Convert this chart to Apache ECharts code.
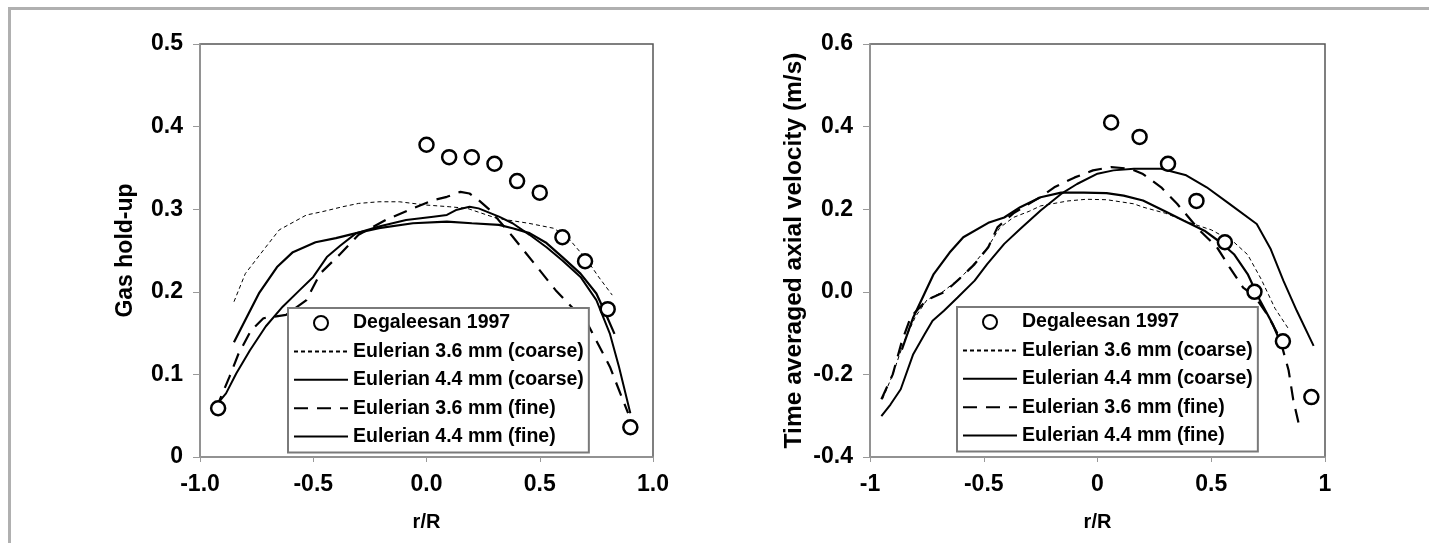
<!DOCTYPE html>
<html>
<head>
<meta charset="utf-8">
<script src="https://cdn.jsdelivr.net/npm/echarts@6/dist/echarts.min.js"></script>
<style>
  html, body { margin: 0; padding: 0; background: #fff; }
  #chart { width: 1429px; height: 543px; }
</style>
</head>
<body>
<div id="chart"></div>
<script>
// ===== data: left plot (gas hold-up) =====
const holdDeg = [[-0.92, 0.059], [0.0, 0.378], [0.1, 0.363], [0.2, 0.363], [0.3, 0.355], [0.4, 0.334],
  [0.5, 0.320], [0.6, 0.266], [0.7, 0.237], [0.8, 0.179], [0.9, 0.036]];
const holdC36 = [[-0.85, 0.188], [-0.8, 0.222], [-0.71, 0.254], [-0.65, 0.275], [-0.53, 0.293], [-0.46, 0.297],
  [-0.37, 0.303], [-0.3, 0.307], [-0.21, 0.309], [-0.12, 0.309], [0.0, 0.305], [0.1, 0.303], [0.18, 0.301],
  [0.31, 0.289], [0.45, 0.283], [0.56, 0.277], [0.62, 0.267], [0.71, 0.238], [0.76, 0.218], [0.82, 0.196]];
const holdC44 = [[-0.85, 0.139], [-0.8, 0.166], [-0.74, 0.198], [-0.66, 0.230], [-0.59, 0.248], [-0.49, 0.260],
  [-0.4, 0.265], [-0.31, 0.271], [-0.21, 0.277], [-0.06, 0.283], [0.09, 0.285], [0.2, 0.283], [0.32, 0.281],
  [0.38, 0.277], [0.455, 0.271], [0.53, 0.259], [0.6, 0.242], [0.68, 0.222], [0.75, 0.198], [0.79, 0.174],
  [0.83, 0.149]];
const holdF36 = [[-0.93, 0.058], [-0.87, 0.097], [-0.83, 0.125], [-0.775, 0.153], [-0.72, 0.168], [-0.62, 0.172],
  [-0.53, 0.190], [-0.47, 0.222], [-0.38, 0.246], [-0.3, 0.269], [-0.18, 0.287], [-0.06, 0.301], [0.03, 0.311],
  [0.09, 0.315], [0.15, 0.321], [0.19, 0.319], [0.23, 0.311], [0.28, 0.299], [0.38, 0.267], [0.57, 0.202],
  [0.71, 0.162], [0.81, 0.109], [0.89, 0.053]];
const holdF44 = [[-0.94, 0.059], [-0.885, 0.077], [-0.84, 0.101], [-0.78, 0.129], [-0.71, 0.158], [-0.635, 0.182],
  [-0.56, 0.202], [-0.5, 0.218], [-0.44, 0.242], [-0.38, 0.256], [-0.31, 0.271], [-0.21, 0.279], [-0.09, 0.287],
  [0.03, 0.291], [0.09, 0.293], [0.13, 0.299], [0.19, 0.303], [0.23, 0.301], [0.32, 0.291], [0.38, 0.283],
  [0.455, 0.269], [0.53, 0.254], [0.6, 0.238], [0.68, 0.218], [0.75, 0.190], [0.81, 0.149], [0.85, 0.109],
  [0.9, 0.053]];

// ===== data: right plot (axial velocity) =====
const velDeg = [[0.06, 0.41], [0.185, 0.375], [0.31, 0.31], [0.435, 0.22], [0.56, 0.12], [0.69, 0.0],
  [0.815, -0.12], [0.94, -0.255]];
const velC36 = [[-0.945, -0.26], [-0.9, -0.2], [-0.85, -0.12], [-0.8, -0.06], [-0.75, -0.02], [-0.68, 0.0],
  [-0.6, 0.035], [-0.54, 0.07], [-0.48, 0.11], [-0.43, 0.155], [-0.37, 0.18], [-0.3, 0.195], [-0.25, 0.208],
  [-0.13, 0.22], [-0.05, 0.224], [0.04, 0.223], [0.16, 0.213], [0.2, 0.205], [0.3, 0.19], [0.4, 0.168],
  [0.5, 0.15], [0.6, 0.12], [0.66, 0.09], [0.72, 0.03], [0.78, -0.04], [0.84, -0.09]];
const velC44 = [[-0.86, -0.14], [-0.81, -0.062], [-0.72, 0.043], [-0.65, 0.095], [-0.59, 0.132], [-0.48, 0.167],
  [-0.41, 0.18], [-0.34, 0.205], [-0.25, 0.229], [-0.16, 0.24], [-0.06, 0.24], [0.04, 0.239], [0.115, 0.233],
  [0.2, 0.221], [0.29, 0.197], [0.38, 0.172], [0.47, 0.148], [0.54, 0.12], [0.6, 0.091], [0.66, 0.043],
  [0.715, -0.022], [0.77, -0.078], [0.81, -0.13]];
const velF36 = [[-0.95, -0.26], [-0.9, -0.2], [-0.86, -0.12], [-0.82, -0.06], [-0.75, -0.02], [-0.67, 0.0],
  [-0.6, 0.035], [-0.54, 0.067], [-0.48, 0.108], [-0.44, 0.156], [-0.37, 0.19], [-0.25, 0.23], [-0.19, 0.253],
  [-0.1, 0.277], [-0.02, 0.294], [0.06, 0.302], [0.145, 0.298], [0.2, 0.285], [0.28, 0.253], [0.35, 0.213],
  [0.45, 0.148], [0.525, 0.108], [0.58, 0.06], [0.64, 0.01], [0.69, -0.01], [0.745, -0.054], [0.8, -0.11],
  [0.84, -0.19], [0.86, -0.26], [0.89, -0.333]];
const velF44 = [[-0.95, -0.301], [-0.91, -0.273], [-0.865, -0.236], [-0.81, -0.151], [-0.76, -0.103],
  [-0.725, -0.07], [-0.675, -0.046], [-0.615, -0.014], [-0.54, 0.027], [-0.485, 0.067], [-0.41, 0.116],
  [-0.34, 0.152], [-0.25, 0.197], [-0.16, 0.237], [-0.09, 0.261], [0.0, 0.286], [0.07, 0.294], [0.16, 0.298],
  [0.28, 0.298], [0.39, 0.282], [0.48, 0.253], [0.58, 0.213], [0.7, 0.164], [0.76, 0.105], [0.817, 0.027],
  [0.876, -0.046], [0.95, -0.131]];

const seriesNames = ['Degaleesan 1997', 'Eulerian 3.6 mm (coarse)', 'Eulerian 4.4 mm (coarse)',
  'Eulerian 3.6 mm (fine)', 'Eulerian 4.4 mm (fine)'];

const FONT = '"Liberation Sans", Arial, sans-serif';
const lab = { color: '#000', fontWeight: 'bold', fontFamily: FONT, fontSize: 23 };

function makeSeries(idx, sets) {
  const [deg, c36, c44, f36, f44] = sets;
  const base = { type: 'line', xAxisIndex: idx, yAxisIndex: idx, symbol: 'none', animation: false,
    itemStyle: { color: '#000', opacity: 0 } };
  return [
    { name: seriesNames[0], type: 'scatter', xAxisIndex: idx, yAxisIndex: idx, data: deg, symbol: 'circle',
      symbolSize: 14, itemStyle: { color: '#fff', borderColor: '#000', borderWidth: 2.5, opacity: 1 },
      z: 5, animation: false },
    Object.assign({ name: seriesNames[1], data: c36, lineStyle: { color: '#000', width: 1, type: [4, 3] } }, base),
    Object.assign({ name: seriesNames[2], data: c44, lineStyle: { color: '#000', width: 2.2 } }, base),
    Object.assign({ name: seriesNames[3], data: f36, lineStyle: { color: '#000', width: 2.2, type: [14, 9] } }, base),
    Object.assign({ name: seriesNames[4], data: f44, lineStyle: { color: '#000', width: 2 } }, base),
  ];
}

function legendAt(left, top) {
  return {
    data: seriesNames, orient: 'vertical', left: left, top: top,
    itemWidth: 54, itemHeight: 14, itemGap: 8.4,
    padding: [5, 5, 6, 5],
    backgroundColor: '#fff', borderColor: '#7a7a7a', borderWidth: 2,
    selectedMode: false,
    textStyle: { color: '#000', fontWeight: 'bold', fontFamily: FONT, fontSize: 19.5, lineHeight: 20 },
  };
}

function xAxisFor(idx, fmt) {
  return {
    gridIndex: idx, type: 'value', min: -1, max: 1, interval: 0.5,
    name: 'r/R', nameLocation: 'middle', nameGap: 55,
    nameTextStyle: { color: '#000', fontWeight: 'bold', fontFamily: FONT, fontSize: 20 },
    axisLine: { onZero: false, lineStyle: { color: '#999', width: 1.5 } },
    axisTick: { show: true, length: 5, lineStyle: { color: '#999' } },
    axisLabel: Object.assign({ margin: 16, formatter: fmt }, lab),
    splitLine: { show: false },
  };
}

function yAxisFor(idx, min, max, step, name, fmt, nameSize) {
  return {
    gridIndex: idx, type: 'value', min: min, max: max, interval: step,
    name: name, nameLocation: 'middle', nameGap: 63, nameRotate: 90,
    nameTextStyle: { color: '#000', fontWeight: 'bold', fontFamily: FONT, fontSize: nameSize },
    axisLine: { show: true, onZero: false, lineStyle: { color: '#999', width: 1.5 } },
    axisTick: { show: true, length: 7, lineStyle: { color: '#999' } },
    axisLabel: Object.assign({ margin: 17, formatter: fmt }, lab),
    splitLine: { show: false },
  };
}

const chart = echarts.init(document.getElementById('chart'));
chart.setOption({
  backgroundColor: '#fff',
  animation: false,
  graphic: [{
    type: 'rect', silent: true, z: -10,
    shape: { x: 9.5, y: 8.5, width: 1500, height: 600 },
    style: { fill: 'none', stroke: '#b0b0b0', lineWidth: 3 },
  }],
  grid: [
    { left: 200, top: 44, width: 453, height: 413, show: true, borderColor: '#555', borderWidth: 1.5 },
    { left: 870, top: 44, width: 455, height: 413, show: true, borderColor: '#555', borderWidth: 1.5 },
  ],
  xAxis: [
    xAxisFor(0, v => v.toFixed(1)),
    xAxisFor(1, v => String(v)),
  ],
  yAxis: [
    yAxisFor(0, 0, 0.5, 0.1, 'Gas hold-up', v => (v === 0 ? '0' : v.toFixed(1)), 23),
    yAxisFor(1, -0.4, 0.6, 0.2, 'Time averaged axial velocity (m/s)', v => v.toFixed(1), 24.5),
  ],
  legend: [legendAt(288, 308), legendAt(957, 307)],
  series: makeSeries(0, [holdDeg, holdC36, holdC44, holdF36, holdF44])
    .concat(makeSeries(1, [velDeg, velC36, velC44, velF36, velF44])),
});
</script>
</body>
</html>
